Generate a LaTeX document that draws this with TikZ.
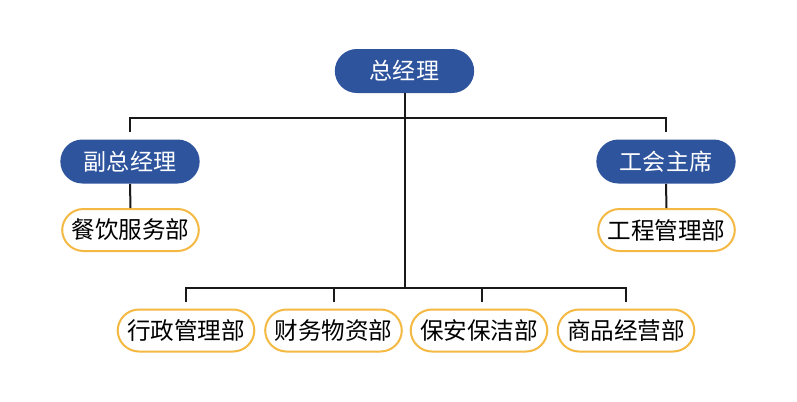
\documentclass[tikz,border=0pt]{standalone}
\usepackage{fontspec}
\setmainfont{Noto Sans CJK SC}
\definecolor{boxblue}{RGB}{47,84,158}
\definecolor{boxgold}{RGB}{244,185,66}
\definecolor{linegray}{RGB}{25,25,25}
\begin{document}
\begin{tikzpicture}[x=0.75pt,y=-0.75pt,
  headbox/.style={rectangle, rounded corners=16.5pt, fill=boxblue, text=white,
    minimum width=104.5pt, minimum height=33pt, inner sep=0pt, font=\fontsize{17.3pt}{17.3pt}\selectfont},
  deptbox/.style={rectangle, rounded corners=16pt, draw=boxgold, line width=1.5pt, fill=white, text=black,
    minimum width=102.5pt, minimum height=31.5pt, inner sep=0pt, font=\fontsize{17.7pt}{17.7pt}\selectfont},
  link/.style={draw=linegray, line width=1.5pt}]
\useasboundingbox (0,0) rectangle (797,401);
\fill[white] (0,0) rectangle (797,401);

\node[headbox] (gm) at (404.5,71) {总经理};
\node[headbox] (vgm) at (130,161.5) {副总经理};
\node[headbox] (union) at (666,161.5) {工会主席};
\node[deptbox] (food) at (130.5,230) {餐饮服务部};
\node[deptbox] (eng) at (666.5,230) {工程管理部};
\node[deptbox] (admin) at (186,330.5) {行政管理部};
\node[deptbox] (fin) at (333.5,330.5) {财务物资部};
\node[deptbox] (sec) at (479,330.5) {保安保洁部};
\node[deptbox] (comm) at (626,330.5) {商品经营部};

\coordinate (upper) at (404.5,117.5);
\coordinate (lower) at (404.5,287.5);

\draw[link] (gm.south) -- (lower);
\draw[link] (vgm.north |- 0,132) -- (vgm.north |- upper) -- (union.north |- upper) -- (union.north |- 0,132);
\draw[link] (vgm.south) -- (food.north);
\draw[link] (union.south) -- (eng.north);
\draw[link] (admin.north |- 0,302) -- (admin.north |- lower) -- (comm.north |- lower) -- (comm.north |- 0,302);
\draw[link] (fin.north |- lower) -- (fin.north |- 0,302);
\draw[link] (482,287.5) -- (482,302);
\end{tikzpicture}
\end{document}
